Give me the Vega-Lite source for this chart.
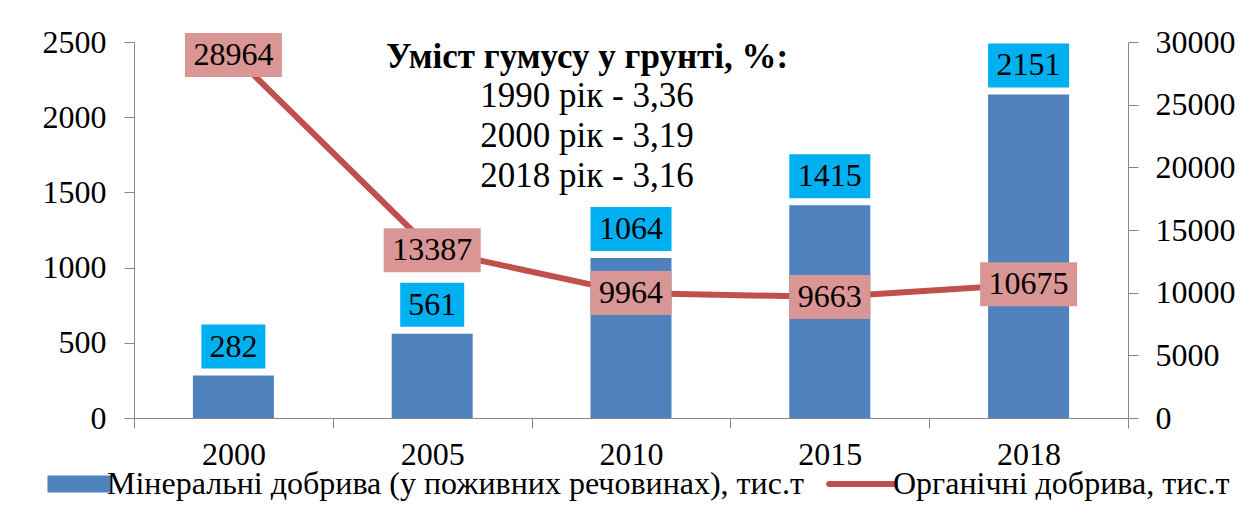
{
  "$schema": "https://vega.github.io/schema/vega-lite/v6.json",
  "width": 994,
  "height": 376,
  "autosize": {"type": "none"},
  "padding": {"left": 134, "top": 42, "right": 114, "bottom": 89},
  "background": "white",
  "config": {
    "font": "Liberation Serif, 'Times New Roman', 'DejaVu Serif', serif",
    "view": {"stroke": null},
    "axis": {"labelFont": "Liberation Serif, 'Times New Roman', 'DejaVu Serif', serif", "labelFontSize": 32, "labelColor": "#000000", "domainColor": "#868686", "tickColor": "#868686", "tickSize": 10, "grid": false, "title": null}
  },
  "title": {
    "text": "Уміст гумусу у грунті, %:",
    "subtitle": ["1990 рік - 3,36", "2000 рік - 3,19", "2018 рік - 3,16"],
    "anchor": "middle",
    "frame": "group",
    "dx": -44,
    "dy": 172,
    "font": "Liberation Serif, 'Times New Roman', 'DejaVu Serif', serif",
    "fontSize": 35,
    "fontWeight": "bold",
    "color": "#000000",
    "subtitleFont": "Liberation Serif, 'Times New Roman', 'DejaVu Serif', serif",
    "subtitleFontSize": 35,
    "subtitleColor": "#000000",
    "subtitleLineHeight": 40,
    "subtitlePadding": 4
  },
  "data": {
    "values": [
      {"year": "2000", "min": 282, "org": 28964},
      {"year": "2005", "min": 561, "org": 13387},
      {"year": "2010", "min": 1064, "org": 9964},
      {"year": "2015", "min": 1415, "org": 9663},
      {"year": "2018", "min": 2151, "org": 10675}
    ]
  },
  "encoding": {
    "x": {
      "field": "year", "type": "ordinal",
      "scale": {"paddingInner": 0, "paddingOuter": 0},
      "axis": {"labelAngle": 0, "tickBand": "extent", "labelPadding": 11, "title": null}
    }
  },
  "layer": [
    {
      "encoding": {
        "y": {
          "field": "min", "type": "quantitative",
          "scale": {"domain": [0, 2500], "nice": false},
          "axis": {"values": [0, 500, 1000, 1500, 2000, 2500], "format": "d", "labelPadding": 18, "title": null, "orient": "left"}
        }
      },
      "layer": [
        {
          "mark": {"type": "bar", "width": 81},
          "encoding": {
            "color": {
              "datum": "Мінеральні  добрива (у поживних речовинах), тис.т",
              "scale": {"domain": ["Мінеральні  добрива (у поживних речовинах), тис.т", "Органічні добрива, тис.т"], "range": ["#4F81BD", "#C0504D"]},
              "legend": {
                "orient": "none",
                "legendX": -62,
                "legendY": 426,
                "direction": "horizontal",
                "title": null,
                "labelFont": "Liberation Serif, 'Times New Roman', 'DejaVu Serif', serif",
                "labelFontSize": 32,
                "labelColor": "#000000",
                "labelLimit": 1000,
                "labelOffset": 3,
                "symbolSize": 3481,
                "columnPadding": 5,
                "padding": 0,
                "encode": {
                  "symbols": {
                    "update": {
                      "size": {"value": 3481},
                      "shape": {"signal": "datum.value === 'Органічні добрива, тис.т' ? 'M-1.52,0H0.69' : 'M-1.375,-0.29H0.79V0.29H-1.375Z'"},
                      "fill": {"signal": "datum.value === 'Органічні добрива, тис.т' ? 'transparent' : '#4F81BD'"},
                      "stroke": {"signal": "datum.value === 'Органічні добрива, тис.т' ? '#C0504D' : 'transparent'"},
                      "strokeWidth": {"signal": "datum.value === 'Органічні добрива, тис.т' ? 6 : 0"},
                      "strokeCap": {"value": "round"},
                      "opacity": {"value": 1}
                    }
                  }
                }
              }
            }
          }
        },
        {
          "transform": [{"filter": "datum.min < 1000"}],
          "mark": {"type": "point", "filled": true, "opacity": 1, "color": "#00B0F0", "strokeWidth": 0, "shape": "M-1,-0.6875H1V0.6875H-1Z", "size": 4096, "yOffset": -29}
        },
        {
          "transform": [{"filter": "datum.min >= 1000"}],
          "mark": {"type": "point", "filled": true, "opacity": 1, "color": "#00B0F0", "strokeWidth": 0, "shape": "M-1,-0.5432H1V0.5432H-1Z", "size": 6561, "yOffset": -29}
        },
        {
          "mark": {"type": "text", "font": "Liberation Serif, 'Times New Roman', 'DejaVu Serif', serif", "fontSize": 32, "color": "#000000", "baseline": "middle", "align": "center", "yOffset": -29},
          "encoding": {"text": {"field": "min", "type": "quantitative", "format": "d"}}
        }
      ]
    },
    {
      "encoding": {
        "y": {
          "field": "org", "type": "quantitative",
          "scale": {"domain": [0, 30000], "nice": false},
          "axis": {"values": [0, 5000, 10000, 15000, 20000, 25000, 30000], "format": "d", "labelPadding": 17, "title": null, "orient": "right"}
        }
      },
      "layer": [
        {
          "mark": {"type": "line", "strokeWidth": 6},
          "encoding": {"color": {"datum": "Органічні добрива, тис.т"}}
        },
        {
          "transform": [{"filter": "datum.org < 10000"}],
          "mark": {"type": "point", "filled": true, "opacity": 1, "color": "#D99694", "strokeWidth": 0, "shape": "M-1,-0.5432H1V0.5432H-1Z", "size": 6561}
        },
        {
          "transform": [{"filter": "datum.org >= 10000"}],
          "mark": {"type": "point", "filled": true, "opacity": 1, "color": "#D99694", "strokeWidth": 0, "shape": "M-1,-0.4536H1V0.4536H-1Z", "size": 9409}
        },
        {
          "mark": {"type": "text", "font": "Liberation Serif, 'Times New Roman', 'DejaVu Serif', serif", "fontSize": 32, "color": "#000000", "baseline": "middle", "align": "center"},
          "encoding": {"text": {"field": "org", "type": "quantitative", "format": "d"}}
        }
      ]
    }
  ],
  "resolve": {"scale": {"y": "independent"}}
}
